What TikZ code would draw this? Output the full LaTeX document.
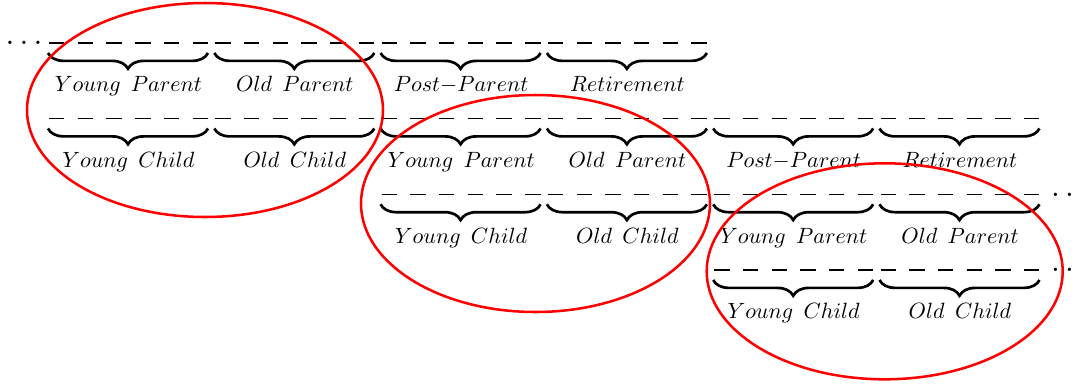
\documentclass[tikz,border=0pt]{standalone}
\usepackage{graphicx}
\usetikzlibrary{decorations.pathreplacing}
\newcommand\stagename[1]{\scalebox{0.7}{$\scriptstyle #1$}}
\begin{document}
\begin{tikzpicture}[x=0.317pt,y=-0.317pt,
  stage/.style={decorate,decoration={brace,mirror,amplitude=5pt},line width=0.85pt},
  track/.style={line width=0.45pt,dash pattern=on 4.9pt off 4.2pt},
  lab/.style={anchor=base,inner sep=0pt,font=\Large},
  more/.style={anchor=base west,inner sep=0pt},
  ring/.style={red,line width=0.8pt}]
\useasboundingbox (0,0) rectangle (1079,383);

% Row 1: first generation
\node[more] (dotsA) at (4.9,44.7) {$\ldots$};
\foreach \lbl [count=\i from 0] in {Young\ Parent,Old\ Parent,Post-Parent,Retirement} {
  \pgfmathsetmacro\xs{47+166.3*\i}
  \draw[track] (\xs+2,43) -- (\xs+161.5,43);
  \draw[stage] (\xs+1,53) -- (\xs+161,53);
  \node[lab] (a\i) at (\xs+81.5,91.7) {\stagename{\lbl}};
}

% Row 2: second generation
\foreach \lbl [count=\i from 0] in {Young\ Child,Old\ Child,Young\ Parent,Old\ Parent,Post-Parent,Retirement} {
  \pgfmathsetmacro\xs{47+166.3*\i}
  \draw[track] (\xs+2,118.5) -- (\xs+161.5,118.5);
  \draw[stage] (\xs+1,128.5) -- (\xs+161,128.5);
  \node[lab] (b\i) at (\xs+81.5,167.2) {\stagename{\lbl}};
}

% Row 3: third generation
\foreach \lbl [count=\i from 2] in {Young\ Child,Old\ Child,Young\ Parent,Old\ Parent} {
  \pgfmathsetmacro\xs{47+166.3*\i}
  \draw[track] (\xs+2,194.3) -- (\xs+161.5,194.3);
  \draw[stage] (\xs+1,204.3) -- (\xs+161,204.3);
  \node[lab] (c\i) at (\xs+81.5,243) {\stagename{\lbl}};
}
\node[more] (dotsC) at (1050.6,196) {$\ldots$};

% Row 4: fourth generation
\foreach \lbl [count=\i from 4] in {Young\ Child,Old\ Child} {
  \pgfmathsetmacro\xs{47+166.3*\i}
  \draw[track] (\xs+2,270) -- (\xs+161.5,270);
  \draw[stage] (\xs+1,280) -- (\xs+161,280);
  \node[lab] (d\i) at (\xs+81.5,318.7) {\stagename{\lbl}};
}
\node[more] (dotsD) at (1050.6,271.7) {$\ldots$};

% overlapping households
\draw[ring] (205,110) ellipse [x radius=178,y radius=107];
\draw[ring] (535.5,203.5) ellipse [x radius=174.5,y radius=108.5];
\draw[ring] (884.7,271.3) ellipse [x radius=178,y radius=108];

\end{tikzpicture}
\end{document}
